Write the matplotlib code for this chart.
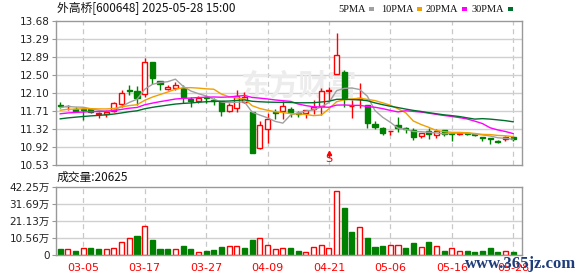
import matplotlib
matplotlib.use("Agg")
import matplotlib.pyplot as plt
from matplotlib.patches import Rectangle
import numpy as np
import pandas as pd

# ---------------- data ----------------
title_text = "外高桥[600648] 2025-05-28 15:00"
vol_title = "成交量:20625"

opens = [11.84, 11.81, 11.76, 11.76, 11.75, 11.64, 11.64, 11.72, 11.86, 12.17,
         12.15, 12.08, 12.78, 12.37, 12.19, 12.21, 12.21, 11.97, 11.92, 12.02,
         11.96, 11.93, 11.72, 11.78, 11.90, 11.68, 10.91, 11.31, 11.68, 11.71,
         11.75, 11.66, 11.675, 11.75, 11.82, 12.14, 12.53, 12.56, 11.81, 11.97,
         11.84, 11.43, 11.33, 11.27, 11.41, 11.33, 11.30, 11.165, 11.28, 11.19,
         11.30, 11.22, 11.21, 11.22, 11.20, 11.15, 11.11, 11.05, 11.09, 11.135]
highs = [11.90, 11.85, 11.79, 11.79, 11.77, 11.68, 11.74, 11.91, 12.16, 12.28,
         12.26, 12.88, 12.78, 12.37, 12.28, 12.35, 12.29, 12.02, 12.04, 12.06,
         11.99, 11.93, 11.88, 12.17, 12.13, 11.68, 11.49, 11.66, 11.75, 11.92,
         11.79, 11.71, 11.74, 11.95, 12.21, 12.24, 13.42, 12.61, 11.95, 12.32,
         11.84, 11.50, 11.37, 11.28, 11.57, 11.37, 11.33, 11.24, 11.33, 11.31,
         11.30, 11.24, 11.24, 11.25, 11.22, 11.15, 11.12, 11.08, 11.16, 11.16]
lows = [11.77, 11.73, 11.68, 11.51, 11.66, 11.55, 11.57, 11.70, 11.79, 12.06,
        11.84, 12.02, 12.30, 12.17, 12.17, 12.17, 11.89, 11.79, 11.88, 11.88,
        11.84, 11.61, 11.70, 11.70, 11.88, 10.80, 10.89, 11.02, 11.53, 11.54,
        11.59, 11.57, 11.56, 11.64, 11.62, 11.95, 12.52, 11.79, 11.55, 11.78,
        11.35, 11.31, 11.19, 11.19, 11.26, 11.22, 11.08, 11.13, 11.10, 11.12,
        11.17, 11.06, 11.18, 11.18, 11.17, 11.06, 10.98, 11.02, 11.06, 11.06]
closes = [11.82, 11.83, 11.72, 11.74, 11.69, 11.66, 11.70, 11.89, 12.10, 12.15,
          12.00, 12.79, 12.43, 12.30, 12.24, 12.28, 12.01, 11.92, 12.00, 11.99,
          11.92, 11.72, 11.84, 12.05, 12.02, 10.80, 11.40, 11.54, 11.66, 11.83,
          11.69, 11.64, 11.73, 11.79, 12.15, 12.17, 12.94, 11.98, 11.83, 11.99,
          11.44, 11.37, 11.24, 11.28, 11.35, 11.31, 11.135, 11.22, 11.21, 11.28,
          11.21, 11.21, 11.23, 11.20, 11.19, 11.11, 11.09, 11.04, 11.135, 11.09]
# closes of the 29 sessions before the first visible one (needed for the MAs)
prior_closes = [11.20, 11.25, 11.30, 11.28, 11.35, 11.32, 11.38, 11.36, 11.34, 11.42,
                11.45, 11.50, 11.55, 11.52, 11.60, 11.58, 11.62, 11.56, 11.64, 11.68,
                11.62, 11.70, 11.65, 11.68, 11.70, 11.72, 11.78, 11.76, 11.86]
volumes = [3.7, 3.6, 2.5, 4.1, 4.3, 3.7, 3.7, 4.1, 7.9, 10.4,
           11.8, 18.0, 9.3, 3.7, 3.7, 3.7, 5.6, 3.7, 1.7, 2.5,
           3.1, 5.0, 5.6, 5.6, 4.6, 9.3, 10.4, 6.2, 3.7, 4.1,
           4.6, 2.5, 2.1, 4.8, 6.2, 4.1, 39.8, 29.2, 14.3, 17.2,
           10.8, 5.2, 5.8, 6.2, 6.2, 4.6, 7.5, 5.2, 8.1, 5.6,
           2.5, 4.1, 2.5, 2.5, 2.1, 2.5, 4.1, 1.7, 2.5, 2.06]  # 万
date_ticks_idx = [3, 11, 19, 27, 35, 43, 51, 59]
date_labels = ["03-05", "03-17", "03-27", "04-09", "04-21", "05-06", "05-16", "05-28"]
price_ticks = [10.53, 10.92, 11.32, 11.71, 12.10, 12.50, 12.89, 13.29, 13.68]
price_labels = ["10.53", "10.92", "11.32", "11.71", "12.10", "12.50", "12.89", "13.29", "13.68"]
vol_ticks = [0, 10.56, 21.13, 31.69, 42.25]
vol_labels = ["0", "10.56万", "21.13万", "31.69万", "42.25万"]
ma_periods = [5, 10, 20, 30]
ma_names = ["5PMA", "10PMA", "20PMA", "30PMA"]
ma_colors = ["#a0a0a0", "#f0a000", "#ff00ff", "#006f2c"]
signal_idx = 35

# ---------------- figure ----------------
RED = "#ff0000"
GREEN = "#008000"
GRID = "#d0d0d0"
SPINE = "#999999"

fig = plt.figure(figsize=(5.78, 2.76), dpi=100)
W, H = 578, 276
def rect(l, t, r, b):
    return [l / W, 1 - b / H, (r - l) / W, (b - t) / H]

ax = fig.add_axes(rect(56, 21, 522, 165))
axv = fig.add_axes(rect(56, 187, 522, 255))

n = len(closes)
x = np.arange(n)
o = np.array(opens); h = np.array(highs); l = np.array(lows); c = np.array(closes)
up = c >= o

for a in (ax, axv):
    a.set_xlim(-0.55, 60.15)
    for s in a.spines.values():
        s.set_color(SPINE)
        s.set_linewidth(1)
    for xi in date_ticks_idx:
        a.axvline(xi, color="#c8c8c8", lw=0.9, ls=(0, (4, 3)), zorder=0)
    a.set_xticks(date_ticks_idx)
    a.tick_params(axis="y", length=3, color=SPINE, pad=1.5, labelsize=7.5,
                  labelcolor="#222222")
    a.tick_params(axis="x", length=0)

# price panel
ax.set_ylim(price_ticks[0], price_ticks[-1])
ax.set_yticks(price_ticks)
ax.set_yticklabels(price_labels)
for yt in price_ticks[1:-1]:
    ax.axhline(yt, color=GRID, lw=1, zorder=0)
ax.set_xticklabels([])

# watermark
ax.text(31, 12.27, "东方财富", fontsize=21, color="#ececec", ha="center", va="center",
        family=["Noto Sans CJK SC"], fontweight="bold", zorder=0.5)

ax.vlines(x, l, h, colors=[RED if u else GREEN for u in up], lw=1, zorder=2)
body_h = np.maximum(np.abs(c - o), 0.004)
ax.bar(x, body_h, bottom=np.minimum(o, c), width=0.66,
       color=["white" if u else GREEN for u in up],
       edgecolor=[RED if u else GREEN for u in up], linewidth=1, zorder=2.5)

allc = pd.Series(list(prior_closes) + list(closes))
for p, col in zip(ma_periods, ma_colors):
    ma = allc.rolling(p).mean().values[len(prior_closes):]
    ax.plot(x, ma, color=col, lw=1, zorder=3)

# sell signal
ax.plot([signal_idx, signal_idx], [10.715, 10.80], color=RED, lw=1, zorder=4)
ax.plot(signal_idx, 10.80, marker="^", ms=3, color=RED, zorder=4)
ax.text(signal_idx, 10.545, "S", color=RED, fontsize=8, ha="center", va="bottom", zorder=4)

# volume panel
axv.set_ylim(0, vol_ticks[-1])
axv.set_yticks(vol_ticks)
axv.set_yticklabels(vol_labels, family=["DejaVu Sans", "Noto Sans CJK SC"])
for yt in vol_ticks[1:-1]:
    axv.axhline(yt, color=GRID, lw=1, zorder=0)
vc = np.concatenate([[c[0] >= prior_closes[-1]], c[1:] >= c[:-1]])
axv.bar(x, volumes, width=0.66, color=["white" if u else GREEN for u in vc],
        edgecolor=[RED if u else GREEN for u in vc], linewidth=1, zorder=2)
axv.set_xticklabels(date_labels, color=RED, fontsize=8)
axv.tick_params(axis="x", pad=6)

# texts
fig.text(57 / W, 1 - 9 / H, title_text, fontsize=8.5, va="center", ha="left",
         family=["Noto Sans CJK SC", "DejaVu Sans"], color="#111111")
fig.text(57 / W, 1 - 177 / H, vol_title, fontsize=8.5, va="center", ha="left",
         family=["Noto Sans CJK SC", "DejaVu Sans"], color="#111111")

lx = [338, 381, 426, 472]
for xs, name, col in zip(lx, ma_names, ma_colors):
    t = fig.text(xs / W, 1 - 9 / H, name, fontsize=7.5, va="center", ha="left",
                 family=["Liberation Serif"], color="#111111")
    fig.canvas.draw()
    bb = t.get_window_extent()
    fig.add_artist(Rectangle(((bb.x1 + 3) / W, (H - 11) / H), 5 / W, 4 / H,
                             transform=fig.transFigure, color=col, lw=0))

fig.text(576 / W, 1 - 264 / H, "www.365jz.com", fontsize=12, va="center", ha="right",
         family=["Liberation Serif"], color="#1f3d7a", fontweight="bold", zorder=10)

fig.savefig("out.png", dpi=100)
